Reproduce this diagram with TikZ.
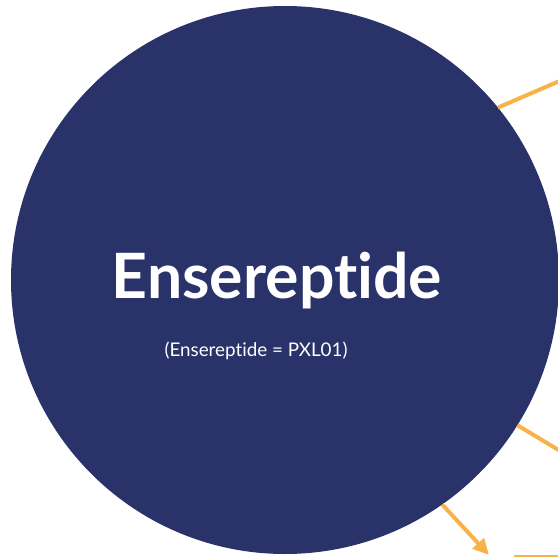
\documentclass[tikz,border=0pt]{standalone}
\usepackage{fontspec}
\setmainfont{Lato}[Ligatures={NoCommon,NoDiscretionary,NoContextual}]
\usepackage{xcolor}
\usepackage{tikz}
\usetikzlibrary{arrows.meta}
\definecolor{navy}{RGB}{41,51,106}
\definecolor{amber}{RGB}{248,178,72}

\begin{document}
\begin{tikzpicture}[line cap=butt,line join=round,x=1pt,y=-1pt,
  hub/.style={circle,fill=navy,draw=none,minimum size=548pt,inner sep=0pt,outer sep=0pt},
  title/.style={text=white,font=\fontsize{62.5}{70}\selectfont\bfseries},
  alias/.style={text=white,font=\fontsize{18.8}{22}\selectfont},
  link/.style={draw=amber,line width=4pt},
  rule/.style={draw=amber,line width=2pt}]
\useasboundingbox (0,0) rectangle (558,557);
\clip (0,0) rectangle (558,557);
\node[hub] (pxl) at (285,280) {};
\node[title] (name) at (277,281) {Ensereptide};
\node[alias] (synonym) at (256,351) {(Ensereptide = PXL01)};
% connectors running out of the frame
\coordinate (outNE) at (620,55);
\coordinate (outE) at (600,475);
\coordinate (tip) at (489,555);
\coordinate (boxtop) at (514,556);
\draw[link] (pxl.39) -- (outNE);
\draw[link] (pxl.-32) -- (outE);
\draw[link,-{Triangle[length=16pt,width=15pt]}] (pxl.-55) -- (tip);
\draw[rule] (boxtop) -- ++(60,0);
\end{tikzpicture}
\end{document}
